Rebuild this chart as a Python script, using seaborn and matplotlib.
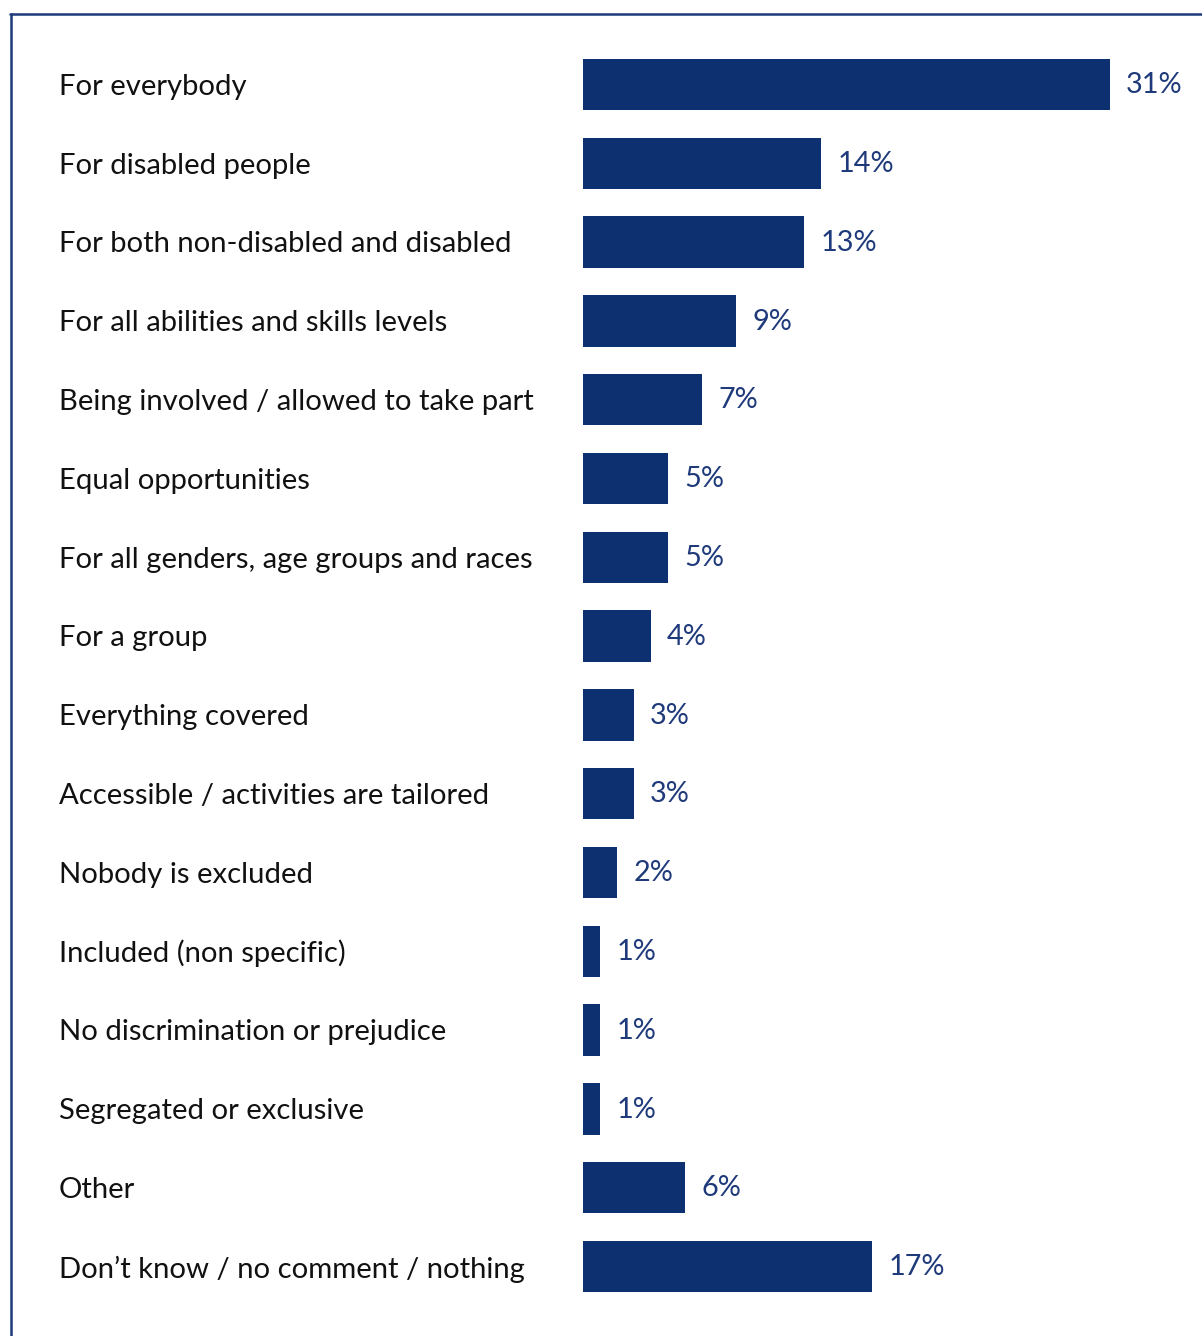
import matplotlib
matplotlib.use("Agg")
import matplotlib.pyplot as plt
import matplotlib.transforms as mtransforms
from matplotlib.lines import Line2D
import seaborn as sns
import pandas as pd

categories = [
    "For everybody",
    "For disabled people",
    "For both non-disabled and disabled",
    "For all abilities and skills levels",
    "Being involved / allowed to take part",
    "Equal opportunities",
    "For all genders, age groups and races",
    "For a group",
    "Everything covered",
    "Accessible / activities are tailored",
    "Nobody is excluded",
    "Included (non specific)",
    "No discrimination or prejudice",
    "Segregated or exclusive",
    "Other",
    "Don\u2019t know / no comment / nothing",
]
values = [31, 14, 13, 9, 7, 5, 5, 4, 3, 3, 2, 1, 1, 1, 6, 17]

BAR = "#0d3170"
NAVY_TEXT = "#1f3a7a"
FONT = "Lato"

sns.set_theme(style="white")
plt.rcParams["font.family"] = [FONT, "DejaVu Sans"]

W, H = 1202, 1336
fig = plt.figure(figsize=(W / 100, H / 100), dpi=100)

x0 = 582.5
px_per_pct = 17
xmax = 36
row = 78.8
top = 84.5 - row / 2
n = len(categories)
ax = fig.add_axes([x0 / W, 1 - (top + n * row) / H, xmax * px_per_pct / W, n * row / H])

df = pd.DataFrame({"category": categories, "value": values})
sns.barplot(data=df, y="category", x="value", color=BAR, saturation=1,
            width=0.65, orient="h", ax=ax, linewidth=0)

ax.set_xlim(0, xmax)
ax.set_ylim(n - 0.5, -0.5)
ax.set_xlabel("")
ax.set_ylabel("")
ax.set_xticks([])
ax.set_yticks([])
for s in ax.spines.values():
    s.set_visible(False)

# category labels aligned to the left of the figure
trans = mtransforms.blended_transform_factory(fig.transFigure, ax.transData)
for i, cat in enumerate(categories):
    ax.text(59 / W, i + 0.03, cat, transform=trans, ha="left", va="center",
            fontsize=21.1, color="#111111")

# value labels at the end of each bar
for i, v in enumerate(values):
    ax.text(v + 0.98, i + 0.01, f"{v}%", ha="left", va="center",
            fontsize=20.8, color=NAVY_TEXT)

# frame lines (top and left)
fig.add_artist(Line2D([10 / W, 1.0], [1 - 14 / H, 1 - 14 / H],
                      transform=fig.transFigure, color="#1f3a7a", lw=1.8))
fig.add_artist(Line2D([11 / W, 11 / W], [0.0, 1 - 14 / H],
                      transform=fig.transFigure, color="#1f3a7a", lw=1.8))

fig.savefig("out.png", dpi=100, facecolor="white")
